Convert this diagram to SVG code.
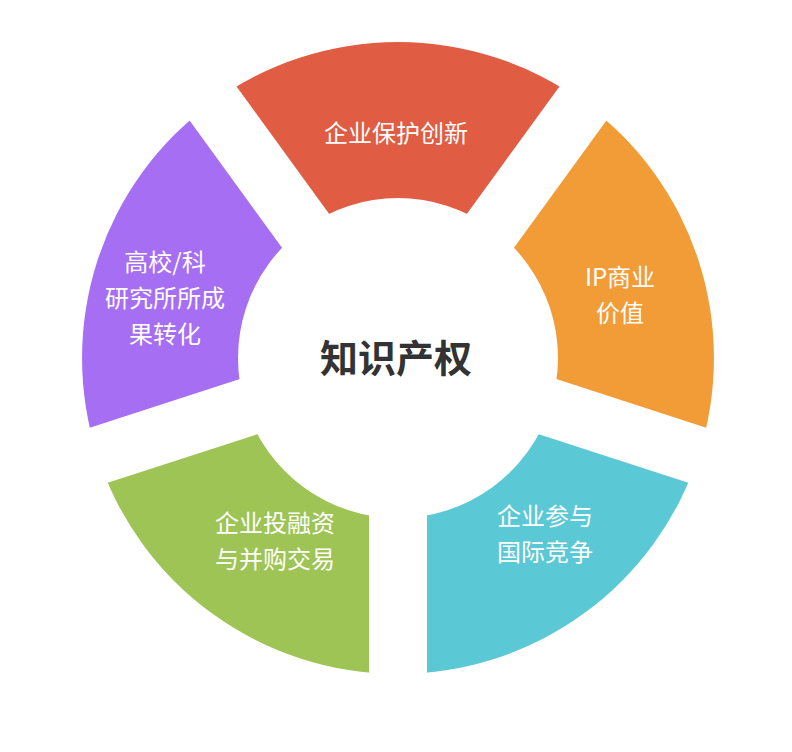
<svg xmlns="http://www.w3.org/2000/svg" width="792" height="752" viewBox="0 0 792 752">
<style>
.lbl{font-family:"Noto Sans CJK SC","Noto Sans",sans-serif;font-size:24px;fill:#fff;text-anchor:middle}
.gap{stroke:#fff;stroke-width:58;stroke-linecap:butt}
</style>
<rect width="792" height="752" fill="#fff"/>
<g id="top"><path d="M212.3,102.4 A316,316 0 0 1 583.7,102.4 L492,228.6 A160,160 0 0 0 304,228.6 Z" fill="#E05C43"/></g>
<g id="right"><path d="M583.7,102.4 A316,316 0 0 1 698.5,455.6 L550.2,407.4 A160,160 0 0 0 492,228.6 Z" fill="#F29C38"/></g>
<g id="cyan"><path d="M698.5,455.6 A316,316 0 0 1 398,674 L398,518 A160,160 0 0 0 550.2,407.4 Z" fill="#5BC8D6"/></g>
<g id="green"><path d="M398,674 A316,316 0 0 1 97.5,455.6 L245.8,407.4 A160,160 0 0 0 398,518 Z" fill="#9DC454"/></g>
<g id="purple"><path d="M97.5,455.6 A316,316 0 0 1 212.3,102.4 L304,228.6 A160,160 0 0 0 245.8,407.4 Z" fill="#A66EF2"/></g>
<g id="gaps">
<line class="gap" x1="398" y1="358" x2="592" y2="91"/>
<line class="gap" x1="398" y1="358" x2="711.9" y2="460"/>
<line class="gap" x1="398" y1="358" x2="398" y2="688"/>
<line class="gap" x1="398" y1="358" x2="84.1" y2="460"/>
<line class="gap" x1="398" y1="358" x2="204" y2="91"/>
</g>
<g id="labels">
<text class="lbl" x="396" y="142">企业保护创新</text>
<text class="lbl" x="620" y="286">IP商业</text>
<text class="lbl" x="620" y="322">价值</text>
<text class="lbl" x="545" y="525">企业参与</text>
<text class="lbl" x="545" y="561">国际竞争</text>
<text class="lbl" x="275" y="532">企业投融资</text>
<text class="lbl" x="275" y="568">与并购交易</text>
<text class="lbl" x="165" y="271">高校/科</text>
<text class="lbl" x="165" y="307">研究所所成</text>
<text class="lbl" x="165" y="343">果转化</text>
</g>
<g id="center"><text x="396" y="372" style="font-family:'Noto Sans CJK SC',sans-serif;font-size:38px;font-weight:bold;fill:#333;text-anchor:middle">知识产权</text></g>
</svg>
